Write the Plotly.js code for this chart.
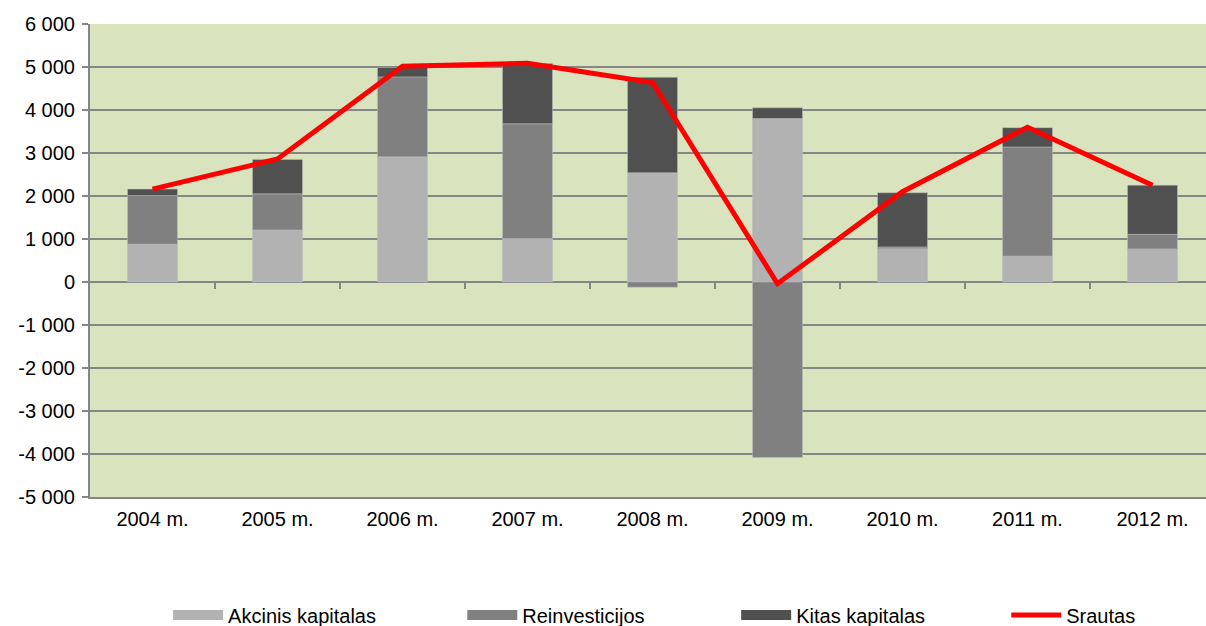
<!DOCTYPE html>
<html>
<head>
<meta charset="utf-8">
<script src="https://cdn.plot.ly/plotly-3.0.1.min.js"></script>
<style>
  html, body { margin: 0; padding: 0; background: #ffffff; }
  #chart { width: 1206px; height: 626px; }
</style>
</head>
<body>
<div id="chart"></div>
<script>
// Categories (years)
const years = ["2004 m.", "2005 m.", "2006 m.", "2007 m.", "2008 m.", "2009 m.", "2010 m.", "2011 m.", "2012 m."];

// Series values
const akcinisKapitalas = [880, 1210, 2910, 1010, 2540, 3800, 775, 600, 770];
const reinvesticijos   = [1130, 840, 1860, 2670, -120, -4080, 40, 2540, 340];
const kitasKapitalas   = [150, 800, 220, 1400, 2220, 250, 1260, 450, 1140];
const srautas          = [2160, 2860, 5020, 5085, 4640, -40, 2100, 3600, 2250];

// Tick labels for y axis
const yTickVals  = [-5000, -4000, -3000, -2000, -1000, 0, 1000, 2000, 3000, 4000, 5000, 6000];
const yTickText  = ["-5 000", "-4 000", "-3 000", "-2 000", "-1 000", "0", "1 000", "2 000", "3 000", "4 000", "5 000", "6 000"];

// Category boundary ticks (between categories) on the zero axis
const boundaryTicks = [0.5, 1.5, 2.5, 3.5, 4.5, 5.5, 6.5, 7.5];

const colAkc = "#b2b2b2", colRei = "#808080", colKit = "#505050", colSr = "#ff0000";
const barLine = { color: "rgba(190,190,190,0.5)", width: 1 };

const traces = [
  { type: "bar", name: "Akcinis kapitalas", x: years, y: akcinisKapitalas,
    marker: { color: colAkc, line: barLine }, showlegend: false, hoverinfo: "y" },
  { type: "bar", name: "Reinvesticijos", x: years, y: reinvesticijos,
    marker: { color: colRei, line: barLine }, showlegend: false, hoverinfo: "y" },
  { type: "bar", name: "Kitas kapitalas", x: years, y: kitasKapitalas,
    marker: { color: colKit, line: barLine }, showlegend: false, hoverinfo: "y" },
  { type: "scatter", mode: "lines", name: "Srautas", x: years, y: srautas,
    line: { color: colSr, width: 5 }, showlegend: false },
  // legend entries (one legend each, for Excel-like spacing)
  { type: "scatter", mode: "lines", name: "Akcinis kapitalas", x: [years[0]], y: [null],
    line: { color: colAkc, width: 10 }, hoverinfo: "skip", legend: "legend" },
  { type: "scatter", mode: "lines", name: "Reinvesticijos", x: [years[0]], y: [null],
    line: { color: colRei, width: 10 }, hoverinfo: "skip", legend: "legend2" },
  { type: "scatter", mode: "lines", name: "Kitas kapitalas", x: [years[0]], y: [null],
    line: { color: colKit, width: 10 }, hoverinfo: "skip", legend: "legend3" },
  { type: "scatter", mode: "lines", name: "Srautas", x: [years[0]], y: [null],
    line: { color: colSr, width: 5 }, hoverinfo: "skip", legend: "legend4" },
  // hidden helper so xaxis2 (boundary ticks on the zero line) is rendered
  { type: "scatter", mode: "markers", x: [0], y: [null], xaxis: "x2", yaxis: "y",
    showlegend: false, hoverinfo: "skip", marker: { opacity: 0 } }
];

const gridCol = "#868686";
function leg(x) {
  return {
    orientation: "h", x: x, xanchor: "left",
    yref: "container", y: 0.0176, yanchor: "middle",
    itemwidth: 50, font: { size: 20, color: "#000000" },
    bgcolor: "rgba(0,0,0,0)", borderwidth: 0
  };
}
const layout = {
  width: 1206, height: 626,
  margin: { l: 90, r: 0, t: 24, b: 129, pad: 0 },
  paper_bgcolor: "#ffffff",
  plot_bgcolor: "#d9e4bf",
  barmode: "relative",
  bargap: 0.6,
  font: { family: "Liberation Sans, Arial, sans-serif", size: 20, color: "#000000" },
  showlegend: true,
  legend: leg(0.0700),
  legend2: leg(0.3336),
  legend3: leg(0.5790),
  legend4: leg(0.8210),
  xaxis: {
    type: "category", range: [-0.5, 8.428], fixedrange: true, automargin: false,
    showgrid: false, zeroline: false,
    showline: true, linecolor: gridCol, linewidth: 2,
    ticks: "", ticklabelstandoff: 3,
    tickfont: { size: 20 }
  },
  xaxis2: {
    type: "linear", overlaying: "x", anchor: "free", position: 0.4545,
    range: [-0.5, 8.428], fixedrange: true, automargin: false,
    showgrid: false, zeroline: false, showline: false,
    tickmode: "array", tickvals: boundaryTicks, showticklabels: false,
    ticks: "outside", ticklen: 6, tickwidth: 2, tickcolor: gridCol
  },
  yaxis: {
    range: [-5000, 6000], fixedrange: true, automargin: false,
    tickmode: "array", tickvals: yTickVals, ticktext: yTickText,
    showgrid: true, gridcolor: gridCol, gridwidth: 2,
    zeroline: true, zerolinecolor: gridCol, zerolinewidth: 2,
    showline: true, linecolor: gridCol, linewidth: 2,
    ticks: "outside", ticklen: 6, tickwidth: 2, tickcolor: gridCol,
    ticklabelstandoff: 3,
    tickfont: { size: 20 }
  }
};

Plotly.newPlot("chart", traces, layout, { displayModeBar: false, staticPlot: true });
</script>
</body>
</html>
